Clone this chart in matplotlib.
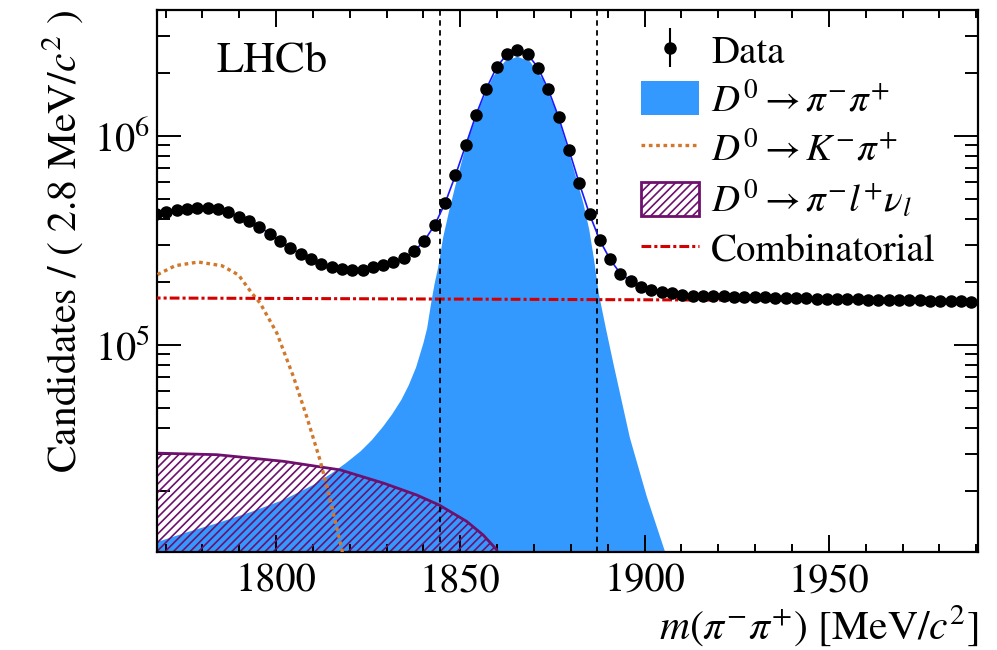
import numpy as np
import matplotlib
matplotlib.use("Agg")
import matplotlib.pyplot as plt
from matplotlib.lines import Line2D
from matplotlib.patches import Patch

plt.rcParams["font.family"] = ["STIXGeneral", "DejaVu Serif"]
plt.rcParams["mathtext.fontset"] = "stix"
plt.rcParams["hatch.linewidth"] = 1.2

# --- binned data: 2.8 MeV bins --------------------------------------------
BIN_W = 2.8
FIRST_CENTRE = 1767.46
data_counts = [
    4.22e5, 4.30e5, 4.40e5, 4.47e5, 4.51e5, 4.51e5, 4.46e5, 4.32e5, 4.11e5, 3.93e5,
    3.68e5, 3.40e5, 3.14e5, 2.92e5, 2.72e5, 2.56e5, 2.43e5, 2.36e5, 2.31e5, 2.28e5,
    2.29e5, 2.35e5, 2.42e5, 2.50e5, 2.60e5, 2.80e5, 3.15e5, 3.75e5, 4.76e5, 6.46e5,
    9.00e5, 1.26e6, 1.68e6, 2.13e6, 2.46e6, 2.58e6, 2.46e6, 2.12e6, 1.67e6, 1.23e6,
    8.60e5, 5.94e5, 4.22e5, 3.16e5, 2.56e5, 2.19e5, 2.02e5, 1.90e5, 1.83e5, 1.79e5,
    1.76e5, 1.74e5, 1.72e5, 1.715e5, 1.71e5, 1.705e5, 1.70e5, 1.695e5, 1.69e5, 1.685e5,
    1.68e5, 1.68e5, 1.675e5, 1.67e5, 1.665e5, 1.66e5, 1.66e5, 1.655e5, 1.65e5, 1.645e5,
    1.645e5, 1.64e5, 1.635e5, 1.63e5, 1.63e5, 1.625e5, 1.62e5, 1.62e5, 1.615e5, 1.61e5,
]

# --- fit components ---------------------------------------------------------
sig_mass = [1766.0, 1768.5, 1776.0, 1784.0, 1793.0, 1802.0, 1810.0, 1815.0, 1819.0,
            1823.0, 1826.0, 1829.0, 1831.5, 1834.0, 1836.0, 1838.0, 1840.0, 1841.0,
            1842.0, 1843.0, 1844.0, 1845.4, 1847.0, 1848.6, 1851.7, 1855.3, 1858.9,
            1862.1, 1865.5, 1868.9, 1872.5, 1876.2, 1879.8, 1883.4, 1885.0, 1886.3,
            1887.6, 1889.5, 1891.5, 1896.0, 1900.6, 1905.5, 1908.0]
sig_vals = [1.10e4, 1.15e4, 1.27e4, 1.40e4, 1.58e4, 1.81e4, 2.13e4, 2.42e4, 2.72e4,
            3.10e4, 3.50e4, 4.05e4, 4.65e4, 5.45e4, 6.40e4, 7.80e4, 1.02e5, 1.20e5,
            1.55e5, 1.95e5, 2.35e5, 3.30e5, 4.40e5, 5.71e5, 9.20e5, 1.38e6, 1.92e6,
            2.27e6, 2.39e6, 2.27e6, 1.85e6, 1.28e6, 7.96e5, 4.76e5, 3.55e5, 2.55e5,
            1.75e5, 1.20e5, 8.20e4, 3.60e4, 1.88e4, 1.03e4, 7.0e3]

misid_mass = [1766.0, 1768.1, 1772.6, 1778.9, 1785.3, 1789.8, 1793.4, 1795.7, 1800.2,
              1804.7, 1808.3, 1811.9, 1814.7, 1817.8, 1819.0]
misid_vals = [2.10e5, 2.18e5, 2.39e5, 2.49e5, 2.39e5, 2.16e5, 1.77e5, 1.58e5, 1.14e5,
              7.05e4, 4.54e4, 2.82e4, 1.81e4, 1.06e4, 8.0e3]

semi_mass = [1766.0, 1768.1, 1783.9, 1802.0, 1817.4, 1829.1, 1838.2, 1844.3, 1851.7,
             1856.2, 1859.9, 1861.0]
semi_vals = [3.04e4, 3.03e4, 2.98e4, 2.77e4, 2.52e4, 2.18e4, 1.91e4, 1.71e4, 1.43e4,
             1.23e4, 1.045e4, 8.0e3]

comb_mass = [1766.0, 1992.0]
comb_vals = [1.675e5, 1.62e5]

window_edges = [1844.4, 1887.1]

XLIM = (1767.7, 1990.5)
YLIM = (1.02e4, 4.0e6)
FLOOR = 1.0e3

C_SIG = "#3399ff"
C_MISID = "#d2782d"
C_SEMI = "#6e106e"
C_COMB = "#d40000"
C_FIT = "#1a1aff"

centres = FIRST_CENTRE + BIN_W * np.arange(len(data_counts))
counts = np.array(data_counts)

fig = plt.figure(figsize=(9.97, 6.5), dpi=100)
ax = fig.add_axes([0.1575, 0.1508, 0.8235, 0.8338])

ax.fill_between(sig_mass, FLOOR, sig_vals, color=C_SIG, lw=0, zorder=1)
ax.fill_between(semi_mass, FLOOR, semi_vals, facecolor="none", edgecolor=C_SEMI,
                hatch="////", lw=0, zorder=2)
ax.plot(semi_mass, semi_vals, color=C_SEMI, lw=2.0, zorder=2.5)
ax.plot(misid_mass, misid_vals, color=C_MISID, lw=2.4, ls=(0, (1.1, 1.1)), zorder=3)
ax.plot(comb_mass, comb_vals, color=C_COMB, lw=2.2, ls=(0, (3.2, 1.0, 1.0, 1.0)), zorder=3)
for xe in window_edges:
    ax.axvline(xe, color="black", lw=1.3, ls=(0, (3, 2.5)), zorder=4)
ax.plot(centres, counts, color=C_FIT, lw=1.2, zorder=5)
data_h = ax.errorbar(centres, counts, yerr=np.sqrt(counts), fmt="o", color="black",
                     ms=8, elinewidth=1.5, capsize=0, zorder=6)

ax.set_yscale("log")
ax.set_xlim(*XLIM)
ax.set_ylim(*YLIM)
ax.xaxis.set_major_locator(matplotlib.ticker.MultipleLocator(50))
ax.xaxis.set_minor_locator(matplotlib.ticker.MultipleLocator(10))

ax.tick_params(which="both", direction="in", top=True, right=True, width=1.4,
               labelsize=29)
ax.tick_params(axis="x", which="major", length=12, pad=8)
ax.tick_params(axis="x", which="minor", length=6)
ax.tick_params(axis="y", which="major", length=17, pad=5)
ax.tick_params(axis="y", which="minor", length=9.5)
for sp in ax.spines.values():
    sp.set_linewidth(1.6)

ax.set_xlabel(r"$m(\pi^{-}\pi^{+})$ [MeV/$c^{2}$]", fontsize=30, loc="right", labelpad=2)
ax.set_ylabel(r"Candidates / ( 2.8 MeV/$c^{2}$ )", fontsize=30, loc="top", labelpad=6)

ax.text(0.073, 0.905, "LHCb", transform=ax.transAxes, fontsize=32, va="center")

handles = [
    data_h,
    Patch(facecolor=C_SIG, edgecolor="none"),
    Line2D([], [], color=C_MISID, lw=2.4, ls=(0, (1.1, 1.1))),
    Patch(facecolor="white", edgecolor=C_SEMI, hatch="////", lw=2.0),
    Line2D([], [], color=C_COMB, lw=2.2, ls=(0, (3.2, 1.0, 1.0, 1.0))),
]
labels = [
    "Data",
    r"$D^{0} \rightarrow \pi^{-}\pi^{+}$",
    r"$D^{0} \rightarrow K^{-}\pi^{+}$",
    r"$D^{0} \rightarrow \pi^{-}l^{+}\nu_{l}$",
    "Combinatorial",
]
fig.legend(handles, labels, loc="upper left", bbox_to_anchor=(0.643, 0.95),
           frameon=False, fontsize=28, handlelength=1.5, handleheight=0.95,
           handletextpad=0.3, labelspacing=0.27, borderaxespad=0, borderpad=0)

fig.savefig("out.png", dpi=100)
